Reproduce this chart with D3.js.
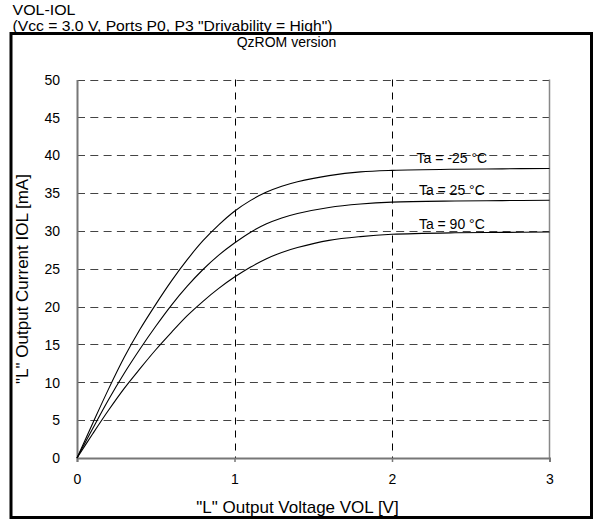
<!DOCTYPE html>
<html><head><meta charset="utf-8">
<script src="https://cdn.jsdelivr.net/npm/d3@7"></script>
<style>
html,body{margin:0;padding:0;background:#fff;}
svg{display:block;font-family:"Liberation Sans",Arial,sans-serif;}
</style></head>
<body>
<svg id="chart" width="593" height="519"></svg>
<script>
// ---- data ----
const voltage = [0, 0.1, 0.2, 0.3, 0.4, 0.5, 0.6, 0.7, 0.8, 0.9, 1.0, 1.1, 1.2, 1.3, 1.4, 1.6, 1.8, 2.0, 2.4, 2.7, 3.0];
const iolM25 = [0, 4.6, 9.1, 13.3, 17.0, 20.3, 23.4, 26.2, 28.7, 30.8, 32.6, 34.0, 35.1, 35.9, 36.5, 37.3, 37.8, 38.0, 38.15, 38.2, 38.25];
const iol25  = [0, 3.9, 7.7, 11.2, 14.4, 17.4, 20.2, 22.7, 24.9, 26.8, 28.4, 29.8, 30.9, 31.7, 32.3, 33.1, 33.55, 33.8, 33.95, 34.0, 34.05];
const iol90  = [0, 3.2, 6.3, 9.2, 11.8, 14.3, 16.6, 18.8, 20.7, 22.4, 23.9, 25.2, 26.3, 27.15, 27.8, 28.75, 29.25, 29.55, 29.75, 29.8, 29.85];
const seriesLabels = ["Ta = -25 °C", "Ta = 25 °C", "Ta = 90 °C"];
const xTicks = [0, 1, 2, 3];
const yTicks = [0, 5, 10, 15, 20, 25, 30, 35, 40, 45, 50];
const titleLines = ["VOL-IOL", "(Vcc = 3.0 V, Ports P0, P3 \"Drivability = High\")"];
const subtitle = "QzROM version";
const xTitle = "\"L\" Output Voltage VOL [V]";
const yTitle = "\"L\" Output Current IOL [mA]";
const labelV = 2.38;

const series = [iolM25, iol25, iol90];

const svg = d3.select("#chart");
const x = d3.scaleLinear().domain([0, 3]).range([77, 549.5]);
const y = d3.scaleLinear().domain([0, 50]).range([458, 79.5]);

// outer frame
svg.append("rect").attr("x", 11).attr("y", 33.5).attr("width", 580.5).attr("height", 484)
  .attr("fill", "none").attr("stroke", "#000").attr("stroke-width", 3);

// titles
svg.append("text").attr("font-size", 14.5).attr("x", 12.5).attr("y", 15)
  .attr("textLength", 63).attr("lengthAdjust", "spacingAndGlyphs").text(titleLines[0]);
svg.append("text").attr("font-size", 14.5).attr("x", 12.5).attr("y", 30.8)
  .attr("textLength", 320).attr("lengthAdjust", "spacingAndGlyphs").text(titleLines[1]);
svg.append("text").attr("x", 286.5).attr("y", 46.5).attr("font-size", 14).attr("text-anchor", "middle").text(subtitle);

// horizontal grid
svg.append("g").selectAll("line").data(yTicks.filter(d => d > 0)).join("line")
  .attr("x1", x(0)).attr("x2", x(3))
  .attr("y1", d => Math.round(y(d)) + 0.5).attr("y2", d => Math.round(y(d)) + 0.5)
  .attr("stroke", "#444").attr("stroke-width", 1).attr("stroke-dasharray", "8,5.3");

// vertical grid
svg.append("g").selectAll("line").data(xTicks.filter(d => d > 0 && d < 3)).join("line")
  .attr("x1", d => Math.round(x(d)) + 0.5).attr("x2", d => Math.round(x(d)) + 0.5)
  .attr("y1", y(50)).attr("y2", y(0))
  .attr("stroke", "#000").attr("stroke-width", 1).attr("stroke-dasharray", "7,6");

// right border
svg.append("line").attr("x1", x(3)).attr("x2", x(3)).attr("y1", y(50)).attr("y2", y(0))
  .attr("stroke", "#888").attr("stroke-width", 1.5);

// axes
const xAxis = d3.axisBottom(x).tickValues(xTicks).tickSize(4).tickFormat(d3.format("d"));
const gx = svg.append("g").attr("transform", `translate(0,${y(0)})`).call(xAxis);
gx.select(".domain").attr("stroke", "#777").attr("stroke-width", 2);
gx.selectAll(".tick line").attr("stroke", "#777").attr("stroke-width", 1.5);
gx.selectAll(".tick text").attr("font-size", 14).attr("font-family", "Liberation Sans, Arial, sans-serif")
  .attr("fill", "#000").attr("y", 0).attr("dy", null).attr("transform", "translate(0,26)");

const yAxis = d3.axisLeft(y).tickValues(yTicks).tickSize(0).tickPadding(17);
const gy = svg.append("g").attr("transform", `translate(${x(0)},0)`).call(yAxis);
gy.select(".domain").attr("stroke", "#777").attr("stroke-width", 2);
gy.selectAll(".tick text").attr("font-size", 14).attr("font-family", "Liberation Sans, Arial, sans-serif")
  .attr("fill", "#000").attr("dy", "0.34em");

// axis titles
svg.append("text").attr("x", 297.5).attr("y", 513).attr("font-size", 17).attr("text-anchor", "middle").text(xTitle);
svg.append("text").attr("transform", "translate(28,279) rotate(-90)").attr("font-size", 17)
  .attr("text-anchor", "middle").text(yTitle);

// curves
const line = d3.line().x((d, i) => x(voltage[i])).y(d => y(d)).curve(d3.curveCatmullRom.alpha(0.5));
svg.append("g").selectAll("path").data(series).join("path")
  .attr("d", d => line(d)).attr("fill", "none").attr("stroke", "#000").attr("stroke-width", 1.1);

// series labels
svg.append("g").selectAll("text").data(series).join("text")
  .attr("x", x(labelV))
  .attr("y", (d, i) => y(d[d.length - 1]) - (i === 2 ? 3 : 5))
  .attr("font-size", 14).attr("text-anchor", "middle")
  .text((d, i) => seriesLabels[i]);
</script>
</body></html>
